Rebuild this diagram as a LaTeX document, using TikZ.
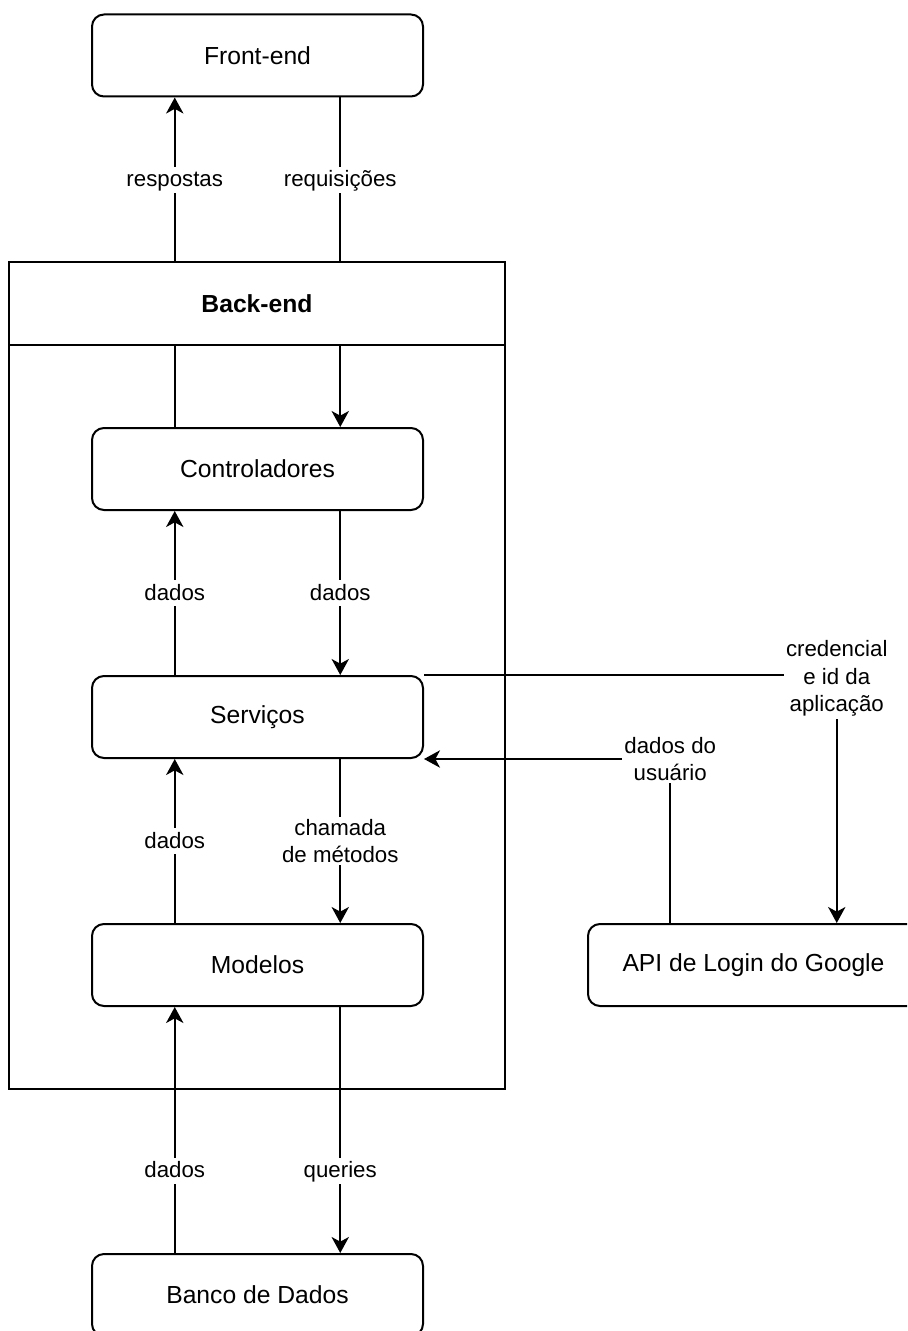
\documentclass[tikz,border=0pt]{standalone}
\usepackage{fontspec}
\setmainfont{Liberation Sans}
\usetikzlibrary{arrows.meta,calc}
\begin{document}
\begin{tikzpicture}[x=0.75pt,y=-0.75pt,
  line width=1.5pt,
  font=\fontsize{16.7}{20.8}\selectfont,
  box/.style={draw, rounded corners=9pt, minimum width=248.25pt, minimum height=61.5pt, inner sep=0pt,
    font=\fontsize{18.5}{22}\selectfont},
  arr/.style={-{Stealth[length=12pt,width=13pt,inset=3.5pt]}},
  lbl/.style={fill=white, inner sep=1.5pt, align=center},
  lblone/.style={lbl, text height=13.5pt, text depth=3pt}]
\useasboundingbox (0,0) rectangle (907,1331);
\clip (0,0) rectangle (907,1331);
% columns used by the vertical connectors
\coordinate (colL) at (174.75,0);
\coordinate (colR) at (340.25,0);

% back-end container
\node[draw, minimum width=372pt, minimum height=620.25pt, inner sep=0pt] (backend) at (257,675.5) {};

% components
\node[box] (front) at (257.5,55.5) {Front-end};
\node[box] (ctrl) at (257.5,469) {Controladores};
\node[box] (serv) at (257.5,717) {Serviços};
\node[box] (model) at (257.5,965) {Modelos};
\node[box] (db) at (257.5,1295) {Banco de Dados};
\node[box] (api) at (753.5,965) {API de Login do Google};

% connectors
\draw[arr] (ctrl.north -| colL) -- node[lblone,pos=0.75]{respostas} (front.south -| colL);
\draw[arr] (front.south -| colR) -- node[lblone,pos=0.25]{requisições} (ctrl.north -| colR);
\draw[arr] (serv.north -| colL) -- node[lblone]{dados} (ctrl.south -| colL);
\draw[arr] (ctrl.south -| colR) -- node[lblone]{dados} (serv.north -| colR);
\draw[arr] (model.north -| colL) -- node[lblone]{dados} (serv.south -| colL);
\draw[arr] (serv.south -| colR) -- node[lbl]{chamada\\de métodos} (model.north -| colR);
\draw[arr] (db.north -| colL) -- node[lblone,pos=0.335]{dados} (model.south -| colL);
\draw[arr] (model.south -| colR) -- node[lblone,pos=0.665]{queries} (db.north -| colR);
\draw[arr] (serv.north east) -| node[lbl,pos=0.5,yshift=-2.5pt]{credencial\\e id da\\aplicação}
  ($(api.north west)!0.75!(api.north east)$);
\draw[arr] ($(api.north west)!0.25!(api.north east)$) |- node[lbl,pos=0.5]{dados do\\usuário}
  (serv.south east);

% container header, drawn over the connectors
\node[draw, fill=white, minimum width=372pt, minimum height=62.25pt, inner sep=0pt,
  font=\fontsize{18.5}{22}\selectfont\bfseries] (hdr) at (257,303.5) {Back-end};
\end{tikzpicture}
\end{document}
